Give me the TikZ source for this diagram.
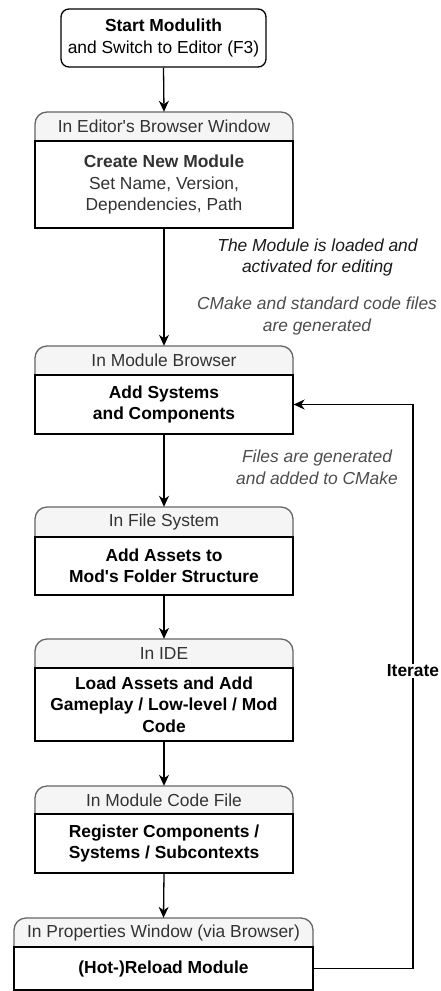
\documentclass[tikz,border=0pt]{standalone}
\usepackage{fontspec}
\setmainfont{Liberation Sans}[Ligatures=ResetAll]
\usetikzlibrary{arrows.meta}
\definecolor{hdrfill}{HTML}{F5F5F5}
\definecolor{hdrline}{HTML}{666666}
\definecolor{txtdark}{HTML}{333333}
\definecolor{txtgray}{HTML}{4D4D4D}
\definecolor{txtblack}{HTML}{1A1A1A}

\newcommand{\mylane}[8]{%
  \fill[hdrfill, rounded corners=12pt] (#2,#4) rectangle (#3,#5);
  \fill[hdrfill] (#2,#4+14) rectangle (#3,#5);
  \draw[hdrline, line width=1.3pt, rounded corners=12pt] (#2,#5) -- (#2,#4) -- (#3,#4) -- (#3,#5);
  \node[hdrtext, minimum width={(#3-#2)*1pt}, minimum height={(#5-#4)*1pt}] (#1h) at ({(#2+#3)/2},{(#4+#5)/2}) {#7};
  \node[bodybox, minimum width={(#3-#2)*1pt}, minimum height={(#6-#5)*1pt}] (#1) at ({(#2+#3)/2},{(#5+#6)/2}) {#8};
}

\begin{document}
\begin{tikzpicture}[x=1pt, y=-1pt,
  basefont/.style={font=\fontsize{17.4}{21.5}\selectfont},
  hdrtext/.style={basefont, text=txtdark, inner sep=0pt, align=center},
  bodybox/.style={basefont, draw=black, line width=1.3pt, fill=white, inner sep=0pt, align=center},
  startbox/.style={basefont, draw=black, line width=1.3pt, rounded corners=8pt, inner sep=0pt, align=center},
  conn/.style={draw=black, line width=1.3pt, -{Stealth[length=11pt, width=10pt, inset=3.5pt]}},
  note/.style={basefont, font=\fontsize{17.4}{21.5}\selectfont\itshape, align=center, inner sep=0pt}
]
\useasboundingbox (0,0) rectangle (440,991);

\node[startbox, minimum width=205pt, minimum height=58pt] (start) at (163.5,38)
  {\bfseries Start Modulith\\and Switch to Editor (F3)};

\mylane{l1}{35}{293}{112}{141}{228}{In Editor\textquotesingle s Browser Window}
  {\color{txtdark}\bfseries Create New Module\\\color{txtdark}\mdseries Set Name, Version,\\\color{txtdark}Dependencies, Path}
\mylane{l2}{35}{293}{346}{375}{434}{In Module Browser}
  {\bfseries Add Systems\\\bfseries and Components}
\mylane{l3}{35}{293}{507}{537}{595}{In File System}
  {\bfseries Add Assets to\\\bfseries Mod\textquotesingle s Folder Structure}
\mylane{l4}{35}{293}{639}{668}{741}{In IDE}
  {\bfseries Load Assets and Add\\\bfseries Gameplay / Low-level / Mod\\\bfseries Code}
\mylane{l5}{35}{293}{786}{814}{873}{In Module Code File}
  {\bfseries Register Components /\\\bfseries Systems / Subcontexts}
\mylane{l6}{14}{313}{918}{947}{990}{In Properties Window (via Browser)}
  {\bfseries (Hot-)Reload Module}

\node[note, text=txtblack] (n1) at (317.5,257.5) {The Module is loaded and\\activated for editing};
\node[note, text=txtgray] (n2) at (317,316) {CMake and standard code files\\are generated};
\node[note, text=txtgray] (n3) at (317,467.5) {Files are generated\\and added to CMake};

\draw[conn] (start.south) -- (l1h.north);
\draw[conn] (l1.south) -- (l2h.north);
\draw[conn] (l2.south) -- (l3h.north);
\draw[conn] (l3.south) -- (l4h.north);
\draw[conn] (l4.south) -- (l5h.north);
\draw[conn] (l5.south) -- (l6h.north);

\coordinate (itx) at (413,0);
\draw[conn] (l6.east) -- (l6.east -| itx) -- (l2.east -| itx) -- (l2.east);
\node[basefont, font=\fontsize{17.4}{21.5}\selectfont\bfseries, fill=white, inner sep=1pt] (iter) at (413,671) {Iterate};
\end{tikzpicture}
\end{document}
